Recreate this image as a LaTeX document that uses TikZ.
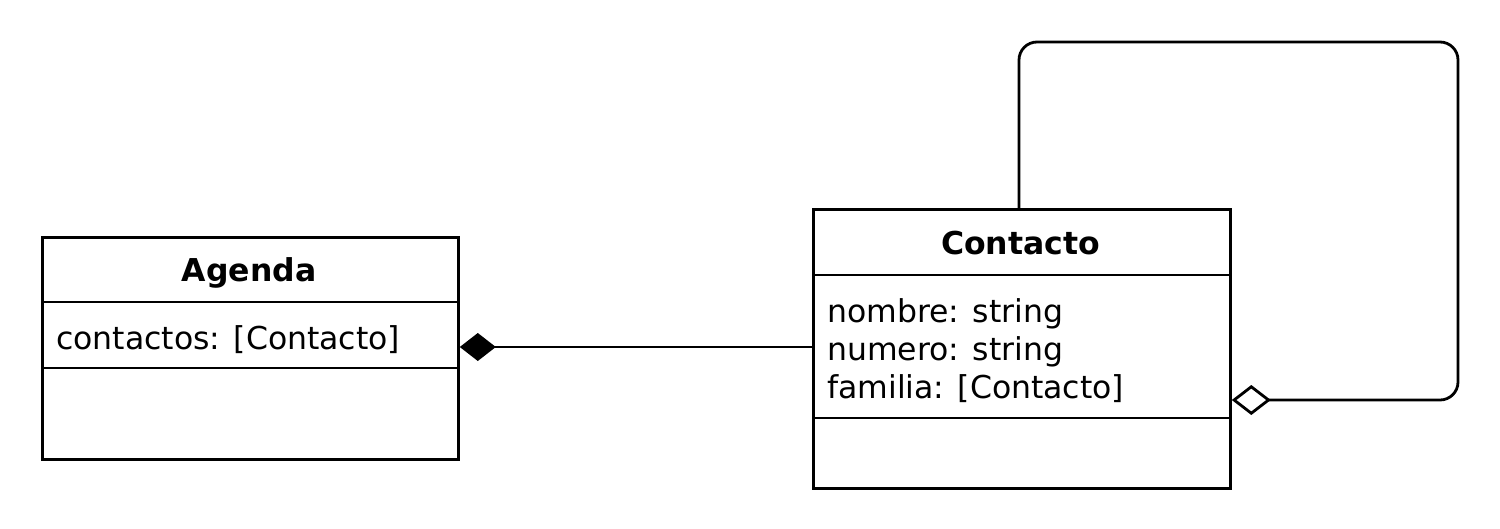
\documentclass[tikz,border=0pt]{standalone}
\usepackage{fontspec}
\setmainfont{DejaVu Sans}
\usetikzlibrary{arrows.meta}
\begin{document}
\begin{tikzpicture}[x=1pt,y=-1pt,
  umlline/.style={line width=2.8pt, line join=miter},
  classbox/.style={draw, line width=2.8pt, rectangle, inner sep=0pt, anchor=north west},
  classtitle/.style={font=\fontsize{31.5}{38}\selectfont\bfseries, inner sep=0pt},
  attr/.style={font=\fontsize{31.5}{38}\selectfont, inner sep=0pt, align=left, anchor=west}]
\useasboundingbox (0,0) rectangle (1500,528);
% Agenda
\node[classbox, minimum width=416pt, minimum height=222pt] (agenda) at (41,236) {};
\coordinate (ad1) at (0,302);
\coordinate (ad2) at (0,368);
\draw[umlline] (agenda.west |- ad1) -- (agenda.east |- ad1);
\draw[umlline] (agenda.west |- ad2) -- (agenda.east |- ad2);
\node[classtitle] (agendaT) at (249,273) {Agenda};
\node[attr] (agendaA) at (56,340) {contactos: [Contacto]};
% Contacto
\node[classbox, minimum width=417pt, minimum height=279pt] (contacto) at (812,208) {};
\coordinate (cd1) at (0,275);
\coordinate (cd2) at (0,418);
\draw[umlline] (contacto.west |- cd1) -- (contacto.east |- cd1);
\draw[umlline] (contacto.west |- cd2) -- (contacto.east |- cd2);
\node[classtitle] (contactoT) at (1020.5,243.5) {Contacto};
\node[attr] (contactoA) at (827,351) {nombre: string\\numero: string\\familia: [Contacto]};
% composition
\coordinate (comp) at (0,347);
\draw[umlline, -{Diamond[length=36pt,width=28pt]}] (contacto.west |- comp) -- (agenda.east |- comp);
% self aggregation
\coordinate (l1) at (1019,42);
\coordinate (l2) at (1458,42);
\coordinate (l3) at (1458,400);
\draw[umlline, rounded corners=18pt, -{Diamond[open,length=39pt,width=30pt]}]
  (contacto.north -| l1) -- (l1) -- (l2) -- (l3) -- (contacto.east |- l3);
\end{tikzpicture}
\end{document}
